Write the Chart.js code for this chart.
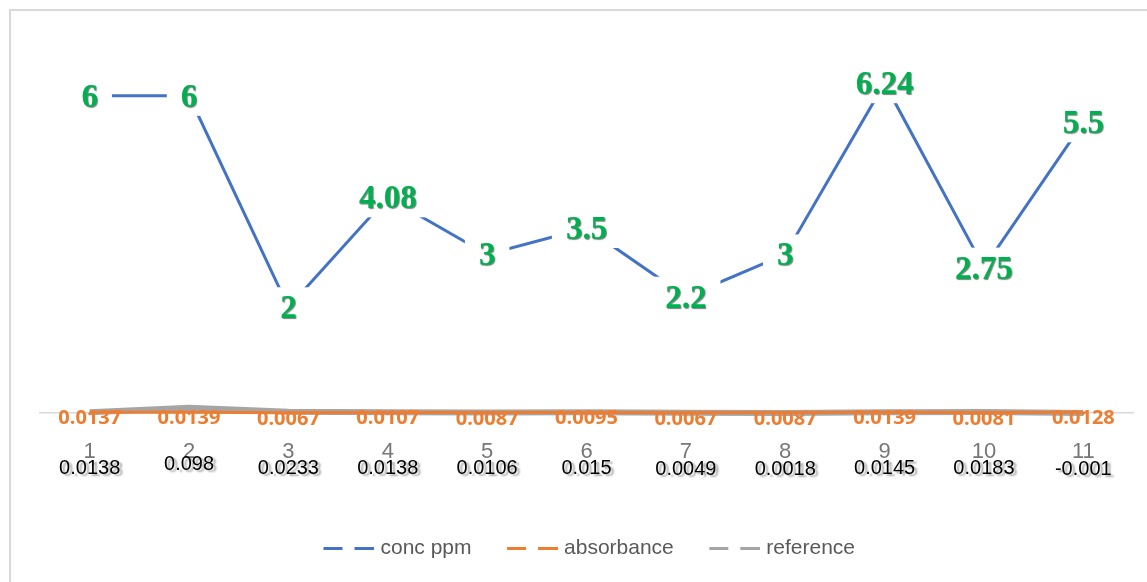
<!DOCTYPE html>
<html lang="en">
<head>
<meta charset="UTF-8">
<title>conc ppm / absorbance / reference</title>
<script src="https://cdn.jsdelivr.net/npm/chart.js"></script>
<style>
    html, body {
        margin: 0;
        padding: 0;
        background: #ffffff;
        overflow: hidden;
    }
    .frame {
        position: absolute;
        left: 9px;
        top: 9px;
        width: 1300px;
        height: 700px;
        border: 2px solid #d9d9d9;
    }
    .chart-box {
        position: absolute;
        left: 0;
        top: 0;
        width: 1147px;
        height: 582px;
    }
</style>
</head>
<body>
<div class="frame"></div>
<div class="chart-box"><canvas id="lineChart" width="1147" height="582"></canvas></div>

<script>
    // data
    const samples = ['1', '2', '3', '4', '5', '6', '7', '8', '9', '10', '11'];
    const concPpm = [6, 6, 2, 4.08, 3, 3.5, 2.2, 3, 6.24, 2.75, 5.5];
    const absorbance = [0.0137, 0.0139, 0.0067, 0.0107, 0.0087, 0.0095, 0.0067, 0.0087, 0.0139, 0.0081, 0.0128];
    const reference = [0.0138, 0.098, 0.0233, 0.0138, 0.0106, 0.015, 0.0049, 0.0018, 0.0145, 0.0183, -0.001];
    const yMin = 0;
    const yMax = 7;

    const BLUE = '#4472c4';
    const ORANGE = '#ed7d31';
    const GREY = '#a5a5a5';

    // "— —" legend marker; blank on the left gives the gap between items
    function dashIcon(color) {
        const c = document.createElement('canvas');
        c.width = 81;
        c.height = 3;
        const g = c.getContext('2d');
        g.fillStyle = color;
        g.fillRect(30, 0, 19, 3);
        g.fillRect(61, 0, 20, 3);
        return c;
    }

    const pointLabels = {
        id: 'pointLabels',
        afterDatasetsDraw(chart) {
            const ctx = chart.ctx;
            ctx.save();
            ctx.textAlign = 'center';
            ctx.textBaseline = 'alphabetic';

            // conc ppm: big green serif labels on a white box
            chart.getDatasetMeta(0).data.forEach((pt, i) => {
                const txt = String(concPpm[i]);
                ctx.font = 'bold 33px "Liberation Serif"';
                const w = ctx.measureText(txt).width;
                ctx.fillStyle = '#ffffff';
                ctx.fillRect(pt.x - w / 2 - 14, pt.y - 20, w + 28, 40);
                ctx.shadowColor = 'rgba(0,0,0,0.5)';
                ctx.shadowOffsetX = 1;
                ctx.shadowOffsetY = 1;
                ctx.shadowBlur = 1;
                ctx.fillStyle = '#00b050';
                ctx.fillText(txt, pt.x, pt.y + 11);
                ctx.shadowColor = 'transparent';
            });

            // absorbance: orange bold, centred on the point
            ctx.font = 'bold 20px "Open Sans"';
            ctx.fillStyle = ORANGE;
            chart.getDatasetMeta(1).data.forEach((pt, i) => {
                ctx.fillText(String(absorbance[i]), pt.x, pt.y + 12);
            });

            // reference: black, below the point, soft shadow
            ctx.font = '20px "Liberation Sans"';
            ctx.fillStyle = '#000000';
            ctx.shadowColor = 'rgba(0,0,0,0.35)';
            ctx.shadowOffsetX = 3;
            ctx.shadowOffsetY = 2;
            ctx.shadowBlur = 2;
            chart.getDatasetMeta(2).data.forEach((pt, i) => {
                ctx.fillText(String(reference[i]), pt.x, pt.y + 62);
            });
            ctx.restore();
        }
    };

    // legend sits a little left of the plot centre in the original
    const legendShift = {
        id: 'legendShift',
        afterLayout(chart) {
            chart.legend.left -= 10;
            chart.legend.right -= 10;
        }
    };

    new Chart(document.getElementById('lineChart'), {
        type: 'line',
        data: {
            labels: samples,
            datasets: [{
                label: 'conc ppm',
                data: concPpm,
                borderColor: BLUE,
                backgroundColor: BLUE,
                borderWidth: 3,
                pointRadius: 0,
                pointStyle: dashIcon(BLUE),
                tension: 0,
                clip: false,
                order: 0
            }, {
                label: 'absorbance',
                data: absorbance,
                borderColor: ORANGE,
                backgroundColor: ORANGE,
                borderWidth: 3,
                pointRadius: 0,
                pointStyle: dashIcon(ORANGE),
                tension: 0,
                clip: false,
                order: 1
            }, {
                label: 'reference',
                data: reference,
                borderColor: GREY,
                backgroundColor: GREY,
                borderWidth: 6,
                pointRadius: 0,
                pointStyle: dashIcon(GREY),
                tension: 0,
                clip: false,
                order: 2
            }]
        },
        options: {
            responsive: false,
            animation: false,
            devicePixelRatio: 1,
            layout: {
                padding: { left: 40, right: 14, top: 43, bottom: 13 }
            },
            plugins: {
                tooltip: { enabled: false },
                legend: {
                    position: 'bottom',
                    labels: {
                        usePointStyle: true,
                        pointStyleWidth: 72,
                        padding: 10,
                        color: '#595959',
                        font: { family: '"Liberation Sans"', size: 21 }
                    }
                }
            },
            scales: {
                x: {
                    offset: true,
                    grid: { display: false, drawTicks: false },
                    border: { display: true, color: '#d9d9d9', width: 1.5 },
                    ticks: {
                        color: '#777777',
                        padding: 26,
                        font: { family: '"Liberation Sans"', size: 22 }
                    },
                    afterFit(scale) {
                        scale.height = 115;
                    }
                },
                y: {
                    display: false,
                    min: yMin,
                    max: yMax
                }
            }
        },
        plugins: [pointLabels, legendShift]
    });
</script>
</body>
</html>
